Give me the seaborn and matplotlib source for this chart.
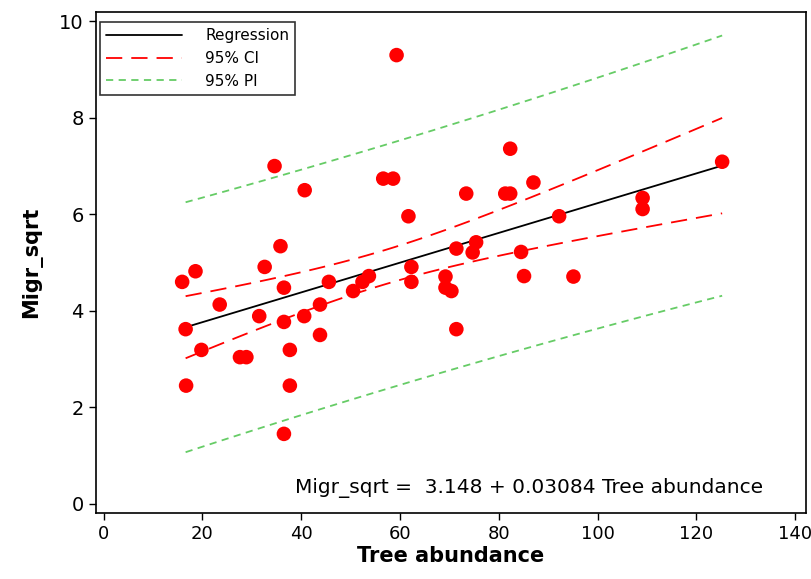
import numpy as np
import pandas as pd
import seaborn as sns
import matplotlib
matplotlib.use("Agg")
import matplotlib.pyplot as plt
from matplotlib import font_manager

# valores
tree = [15.9, 16.6, 16.7, 18.6, 19.8, 23.5, 27.6, 28.9, 31.5, 32.6,
        34.6, 35.8, 36.5, 36.5, 36.5, 37.7, 37.7, 40.6, 40.7, 43.8,
        43.8, 45.6, 50.5, 52.4, 53.7, 56.6, 58.6, 59.3, 61.7, 62.3,
        62.3, 69.2, 69.2, 70.4, 71.4, 71.4, 73.4, 74.7, 75.4, 81.3,
        82.3, 82.3, 84.5, 85.1, 87.0, 92.2, 95.1, 109.1, 109.1, 125.2]
migr = [4.60, 3.62, 2.45, 4.82, 3.19, 4.13, 3.04, 3.04, 3.89, 4.91,
        7.00, 5.34, 4.48, 3.77, 1.45, 3.19, 2.45, 3.89, 6.50, 4.13,
        3.50, 4.60, 4.41, 4.60, 4.72, 6.74, 6.74, 9.30, 5.96, 4.91,
        4.60, 4.71, 4.48, 4.41, 5.29, 3.62, 6.43, 5.21, 5.42, 6.43,
        6.43, 7.36, 5.22, 4.72, 6.66, 5.96, 4.71, 6.34, 6.11, 7.09]
b0, b1 = 3.148, 0.03084

df = pd.DataFrame({"Tree abundance": tree, "Migr_sqrt": migr})

# intervalos da regressao (OLS)
x = np.array(tree)
y = np.array(migr)
n = len(x)
resid = y - (b0 + b1 * x)
s = np.sqrt(np.sum(resid ** 2) / (n - 2))
t = 2.0106
xg = np.linspace(x.min() + 0.7, x.max(), 60)
fit = b0 + b1 * xg
se_fit = s * np.sqrt(1 / n + (xg - x.mean()) ** 2 / np.sum((x - x.mean()) ** 2))
se_pred = np.sqrt(s ** 2 + se_fit ** 2)
bands = pd.DataFrame({"x": xg, "fit": fit,
                      "ci_lo": fit - t * se_fit, "ci_hi": fit + t * se_fit,
                      "pi_lo": fit - t * se_pred, "pi_hi": fit + t * se_pred})

sns.set_style("ticks")
plt.rcParams["font.family"] = ["DejaVu Sans"]
plt.rcParams["text.color"] = "black"
plt.rcParams["axes.labelcolor"] = "black"
plt.rcParams["xtick.color"] = "black"
plt.rcParams["ytick.color"] = "black"
fig = plt.figure(figsize=(8.11, 5.79), dpi=100)
ax = fig.add_axes([0.118, 0.114, 0.876, 0.865])

sns.lineplot(data=bands, x="x", y="fit", color="black", lw=1.3, ax=ax, label="Regression")
sns.lineplot(data=bands, x="x", y="ci_hi", color="red", lw=1.3, ax=ax, label="95% CI")
sns.lineplot(data=bands, x="x", y="ci_lo", color="red", lw=1.3, ax=ax)
sns.lineplot(data=bands, x="x", y="pi_hi", color="#66cc66", lw=1.3, ax=ax, label="95% PI")
sns.lineplot(data=bands, x="x", y="pi_lo", color="#66cc66", lw=1.3, ax=ax)
lines = ax.get_lines()
for ln in lines[1:3]:
    ln.set_dashes([9, 5])
for ln in lines[3:5]:
    ln.set_dashes([4, 3])

sns.scatterplot(data=df, x="Tree abundance", y="Migr_sqrt", color="red", s=110,
                edgecolor="none", ax=ax, zorder=5)

ax.set_xlim(-1.6, 142.2)
ax.set_ylim(-0.19, 10.19)
ax.set_xticks(range(0, 141, 20))
ax.set_yticks(range(0, 11, 2))
ax.tick_params(labelsize=14, length=5, width=1)

# eixo x com fonte estreita, como no original
nomes = {f.name for f in font_manager.fontManager.ttflist}
if "Liberation Sans Narrow" in nomes:
    for lb in ax.get_xticklabels():
        lb.set_family("Liberation Sans Narrow")
        lb.set_fontsize(15)
else:
    ax.tick_params(axis="x", labelsize=13)

ax.set_xlabel("Tree abundance", fontsize=15, fontweight="bold", labelpad=2)
ax.set_ylabel("Migr_sqrt", fontsize=15, fontweight="bold", labelpad=12)
for sp in ax.spines.values():
    sp.set_color("black")
    sp.set_linewidth(1.2)

ax.text(0.94, 0.05, "Migr_sqrt =  3.148 + 0.03084 Tree abundance",
        transform=ax.transAxes, ha="right", va="center", fontsize=14.5)

leg = ax.legend(loc="upper left", fontsize=11, frameon=True, fancybox=False,
                handlelength=5, borderpad=0.4, labelspacing=0.5, handletextpad=1.5,
                borderaxespad=0, bbox_to_anchor=(0.006, 0.98))
leg.get_frame().set_edgecolor("black")
leg.get_frame().set_linewidth(1.2)

fig.savefig("out.png", dpi=100)
